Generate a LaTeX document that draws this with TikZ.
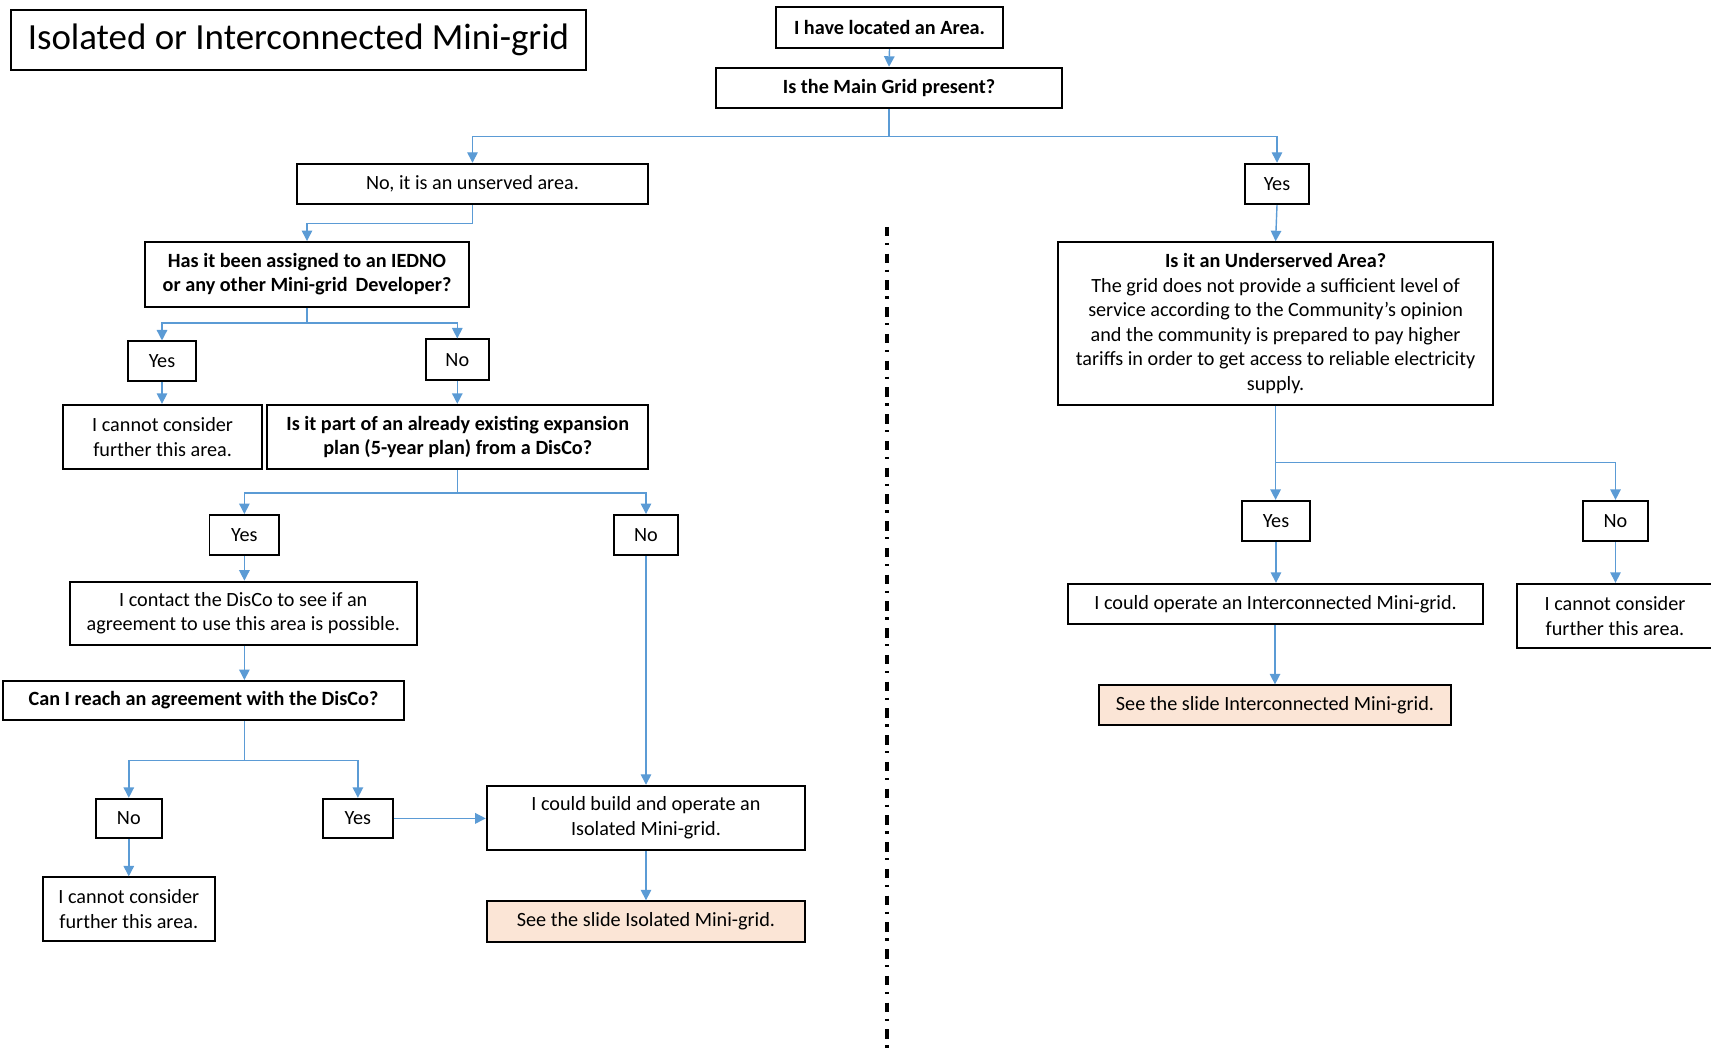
\documentclass[tikz,border=0pt]{standalone}
\usepackage{fontspec}
\setmainfont{Carlito}
\usetikzlibrary{arrows.meta}
\definecolor{conn}{HTML}{5B9BD5}
\definecolor{peach}{HTML}{FBE5D6}
\begin{document}
\begin{tikzpicture}[x=0.02cm,y=-0.02cm,
  bx/.style={draw=black,line width=1.1pt,rectangle,inner sep=0pt,align=center,
     font=\fontsize{11.5}{13.9}\selectfont},
  sz/.style 2 args={minimum width=#1*0.02cm,minimum height=#2*0.02cm},
  bold/.style={font=\fontsize{11.5}{13.9}\selectfont\bfseries},
  goal/.style={fill=peach},
  ln/.style={draw=conn,line width=0.8pt},
  arr/.style={ln,-{Triangle[length=0.21cm,width=0.21cm]}}
]
\useasboundingbox (0,0) rectangle (1711,1054);
\clip (0,0) rectangle (1711,1054);

% title
\node[bx,sz={575}{60},font=\fontsize{21}{24}\selectfont] (title) at (298.5,39.8) {Isolated or Interconnected Mini-grid};

% top
\node[bx,bold,sz={227}{41.5}] (A) at (889.5,27.3) {I have located an Area.};
\node[bx,bold,sz={346}{40.3}] (B) at (889,87.9) {Is the Main Grid present?};
\node[bx,sz={351}{40.3}] (C) at (472.5,183.9) {No, it is an unserved area.};
\node[bx,sz={64}{40.3}] (Y1) at (1277,183.9) {Yes};

% left branch
\node[bx,bold,sz={324}{64.6}] (D) at (307,274.3) {Has it been assigned to an IEDNO\\or any other Mini-grid\, Developer?};
\node[bx,sz={68.7}{39.5}] (Y2) at (162,361.2) {Yes};
\node[bx,sz={63.3}{40.3}] (N2) at (457.3,359.6) {No};
\node[bx,sz={198.7}{64.4}] (E) at (162.6,437) {I cannot consider\\further this area.};
\node[bx,bold,sz={380.7}{64.4}] (F) at (457.7,437) {Is it part of an already existing expansion\\plan (5-year plan) from a DisCo?};
\node[bx,sz={69.8}{40.4}] (Y3) at (244.4,535.2) {Yes};
\node[bx,sz={63.3}{40.4}] (N3) at (646,535.2) {No};
\node[bx,sz={347}{63.3}] (G) at (243.3,613.3) {I contact the DisCo to see if an\\agreement to use this area is possible.};
\node[bx,bold,sz={400.4}{39.2}] (H) at (203.5,700.6) {Can I reach an agreement with the DisCo?};
\node[bx,sz={65.5}{39.2}] (N4) at (128.8,818.4) {No};
\node[bx,sz={69.8}{39.2}] (Y4) at (357.9,818.4) {Yes};
\node[bx,sz={172.4}{63.3}] (I) at (128.8,909) {I cannot consider\\further this area.};
\node[bx,sz={318.6}{64.3}] (J) at (646,817.9) {I could build and operate an\\Isolated Mini-grid.};
\node[bx,goal,sz={318.6}{40.4}] (K) at (646,921.5) {See the slide Isolated Mini-grid.};

% right branch
\node[bx,sz={434.3}{162.6}] (L) at (1275.6,323.5) {\textbf{Is it an Underserved Area?}\\The grid does not provide a sufficient level of\\service according to the Community's opinion\\and the community is prepared to pay higher\\tariffs in order to get access to reliable electricity\\supply.};
\node[bx,sz={68.7}{40.3}] (Y5) at (1276,521) {Yes};
\node[bx,sz={64.3}{40.3}] (N5) at (1615.5,521) {No};
\node[bx,sz={414.7}{40.4}] (M) at (1275.6,604) {I could operate an Interconnected Mini-grid.};
\node[bx,sz={196}{64.2}] (N) at (1615,615.9) {I cannot consider\\further this area.};
\node[bx,goal,sz={352.5}{39.3}] (O) at (1275,705) {See the slide Interconnected Mini-grid.};

% separator
\coordinate (s1) at (887,227);
\coordinate (s2) at (887,1054);
\draw[line width=0.065cm,dash pattern=on 0.19cm off 0.13cm on 0.045cm off 0.17cm] (s1) -- (s2);

% connectors
\draw[arr] (A.south) -- (B.north);
\coordinate (b1) at (889,136.4);
\draw[ln] (B.south) -- (b1);
\draw[arr] (b1) -| (C.north);
\draw[arr] (b1) -| (Y1.north);

\coordinate (c1) at (472.5,223.7);
\draw[arr] (C.south) -- (c1) -| (D.north);

\coordinate (d1) at (307,323);
\draw[ln] (D.south) -- (d1);
\draw[arr] (d1) -| (Y2.north);
\draw[arr] (d1) -| (N2.north);
\draw[arr] (Y2.south) -- (Y2.south |- E.north);
\draw[arr] (N2.south) -- (N2.south |- F.north);

\coordinate (f1) at (457.7,493.2);
\draw[ln] (F.south) -- (f1);
\draw[arr] (f1) -| (Y3.north);
\draw[arr] (f1) -| (N3.north);
\draw[arr] (Y3.south) -- (Y3.south |- G.north);
\draw[arr] (G.south -| Y3.south) -- (Y3.south |- H.north);

\coordinate (h1) at (244.4,760.6);
\draw[ln] (h1 |- H.south) -- (h1);
\draw[arr] (h1) -| (N4.north);
\draw[arr] (h1) -| (Y4.north);
\draw[arr] (N4.south) -- (I.north);
\draw[arr] (Y4.east) -- (Y4.east -| J.west);
\draw[arr] (N3.south) -- (J.north);
\draw[arr] (J.south) -- (K.north);

\draw[arr] (Y1.south) -- (L.north);
\coordinate (l1) at (1275.6,462.7);
\draw[arr] (L.south) -- (L.south |- Y5.north);
\draw[arr] (l1) -| (N5.north);
\draw[arr] (Y5.south) -- (Y5.south |- M.north);
\draw[arr] (N5.south) -- (N5.south |- N.north);
\draw[arr] (M.south -| O.north) -- (O.north);
\end{tikzpicture}
\end{document}
